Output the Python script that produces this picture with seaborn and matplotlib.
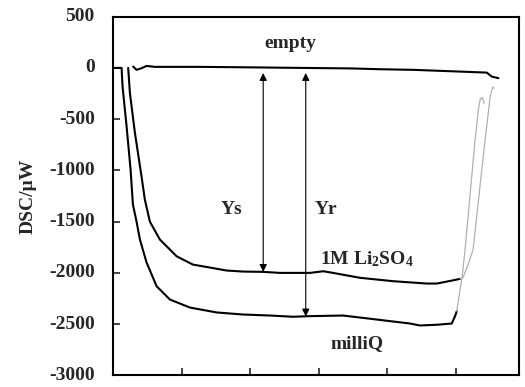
import numpy as np
import pandas as pd
import matplotlib
matplotlib.use("Agg")
import matplotlib.pyplot as plt
import seaborn as sns

# ---- data (x in tick units, y in microwatts) ----
empty_x = [0.296, 0.345, 0.418, 0.491, 0.612, 1.268, 2.041, 2.726, 3.455, 3.892, 4.373, 5.058, 5.447, 5.520, 5.617]
empty_y = [13, -19, -3, 19, 10, 10, 5, 0, -5, -13, -19, -36, -46, -85, -100]

milliq_x = [0.0, 0.127, 0.141, 0.200, 0.258, 0.292, 0.345, 0.394, 0.491, 0.637, 0.831, 1.122,
            1.414, 1.512, 1.895, 2.289, 2.624, 2.872, 3.353, 3.844, 4.329, 4.475, 4.719, 4.937,
            4.985, 5.010]
milliq_y = [0, 0, -182, -572, -993, -1334, -1500, -1675, -1899, -2130, -2260, -2338,
            -2374, -2386, -2406, -2416, -2428, -2422, -2416, -2455, -2494, -2513, -2506, -2494,
            -2422, -2374]

li_x = [0.223, 0.248, 0.321, 0.418, 0.466, 0.539, 0.685, 0.929, 1.166, 1.414, 1.657, 1.895,
        2.187, 2.434, 2.872, 3.066, 3.207, 3.601, 4.082, 4.573, 4.719, 4.961, 5.058]
li_y = [0, -244, -633, -1062, -1286, -1500, -1675, -1838, -1919, -1948, -1977, -1987,
        -1990, -2000, -2000, -1984, -2000, -2048, -2081, -2104, -2104, -2072, -2058]

milliq_gray_x = [5.010, 5.058, 5.087, 5.131, 5.204, 5.277, 5.325, 5.350, 5.375, 5.401, 5.408]
milliq_gray_y = [-2374, -2162, -2045, -1773, -1237, -701, -409, -312, -287, -321, -351]

li_gray_x = [5.058, 5.102, 5.175, 5.248, 5.335, 5.423, 5.466, 5.496, 5.520, 5.539, 5.554]
li_gray_y = [-2058, -2045, -1919, -1773, -1237, -701, -458, -282, -214, -185, -200]

ys_x, ys_top, ys_bottom = 2.19, -50, -1990
yr_x, yr_top, yr_bottom = 2.81, -50, -2425

y_ticks = [500, 0, -500, -1000, -1500, -2000, -2500, -3000]
x_ticks = [1, 2, 3, 4, 5]

sns.set_style("ticks")
plt.rcParams["font.family"] = ["Liberation Serif", "DejaVu Serif"]
plt.rcParams["font.weight"] = "bold"
plt.rcParams["mathtext.fontset"] = "custom"
plt.rcParams["mathtext.rm"] = "Liberation Serif:bold"
plt.rcParams["mathtext.it"] = "Liberation Serif:bold"
plt.rcParams["mathtext.bf"] = "Liberation Serif:bold"

FS = 14

fig = plt.figure(figsize=(5.25, 3.87), dpi=100)
ax = fig.add_axes([0.215, 0.030, 0.774, 0.927])

def draw(x, y, color, lw):
    df = pd.DataFrame({"x": x, "y": y})
    sns.lineplot(data=df, x="x", y="y", sort=False, estimator=None, color=color,
                 linewidth=lw, ax=ax)

draw(empty_x, empty_y, "black", 1.5)
draw(milliq_x, milliq_y, "black", 1.5)
draw(li_x, li_y, "black", 1.5)
draw(milliq_gray_x, milliq_gray_y, "#b0b0b0", 0.9)
draw(li_gray_x, li_gray_y, "#b0b0b0", 0.9)

for xa, yt, yb in [(ys_x, ys_top, ys_bottom), (yr_x, yr_top, yr_bottom)]:
    ax.annotate("", xy=(xa, yt), xytext=(xa, yb),
                arrowprops=dict(arrowstyle="<|-|>", color="black", lw=0.8,
                                mutation_scale=11, shrinkA=0, shrinkB=0))

tk = dict(fontsize=FS, fontweight="bold", ha="center", va="center")
ax.text(2.58, 234, "empty", **tk)
ax.text(1.73, -1383, "Ys", **tk)
ax.text(3.10, -1383, "Yr", **tk)
ax.text(3.70, -1870, "1M Li$_2$SO$_4$", **tk)
ax.text(3.56, -2688, "milliQ", **tk)

ax.set_xlim(0, 5.92)
ax.set_ylim(-3000, 500)
ax.set_yticks(y_ticks)
ax.set_yticklabels([str(v) for v in y_ticks], fontsize=FS, fontweight="bold")
for lab in ax.get_yticklabels():
    lab.set_va("center")
ax.set_xticks(x_ticks)
ax.set_xticklabels([])
ax.set_xlabel("")
ax.set_ylabel("DSC/\u00b5W", fontsize=FS, fontweight="bold", labelpad=9)
ax.tick_params(direction="in", length=5, width=1.2)
ax.tick_params(axis="y", pad=13)
for s in ax.spines.values():
    s.set_visible(True)
    s.set_linewidth(1.5)
    s.set_color("black")

fig.savefig("out.png", dpi=100)
